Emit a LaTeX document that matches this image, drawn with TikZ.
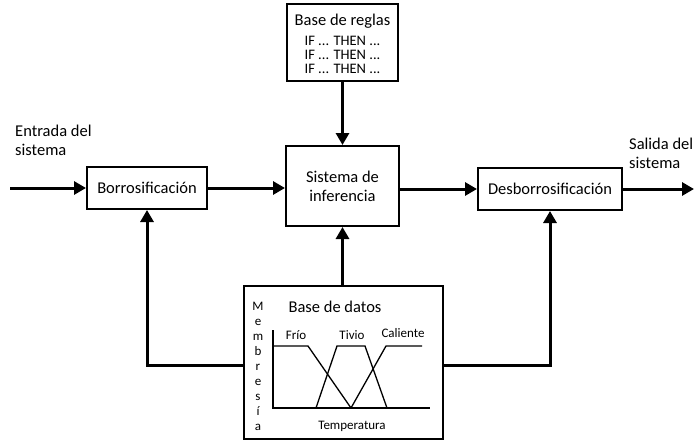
\documentclass[tikz,border=0pt]{standalone}
\usepackage{fontspec}
\setmainfont{Carlito}
\usetikzlibrary{arrows.meta}
\begin{document}
\begin{tikzpicture}[x=1pt,y=-1pt,
  blk/.style={draw,line width=2pt,fill=white},
  conn/.style={line width=3pt,-{Triangle[length=12pt,width=13pt]}},
  lbl/.style={font=\fontsize{16.5}{19}\selectfont},
  rule/.style={font=\fontsize{14.5}{14.5}\selectfont,inner sep=0pt},
  small/.style={font=\fontsize{13}{15}\selectfont},
  curve/.style={line width=1.3pt}]
\useasboundingbox (0,0) rectangle (696,442);
% boxes
\draw[blk] (287,4) rectangle (398,81);
\node[lbl,anchor=center] (rtitle) at (342.5,21) {Base de reglas};
\node[rule] (r1) at (342.5,40.5) {IF ... THEN ...};
\node[rule] (r2) at (342.5,54.5) {IF ... THEN ...};
\node[rule] (r3) at (342.5,68.5) {IF ... THEN ...};
\coordinate (reglasS) at (342.5,81);
\node[blk,minimum width=113pt,minimum height=80pt,lbl,align=center] (inf) at (342.5,186) {Sistema de\\inferencia};
\node[blk,minimum width=120pt,minimum height=42pt,lbl] (bor) at (147,188) {Borrosificación};
\node[blk,minimum width=144pt,minimum height=42pt,lbl] (des) at (550,189) {Desborrosificación};
\draw[blk] (244,286) rectangle (443,439);
\coordinate (datN) at (342.5,286);
\coordinate (datW) at (244,365);
\coordinate (datE) at (443,365);
% labels
\node[lbl,align=left,anchor=north west,inner sep=0pt] (in) at (15,125) {Entrada del\\sistema};
\node[lbl,align=left,anchor=north west,inner sep=0pt] (out) at (629,138) {Salida del\\sistema};
\coordinate (inS) at (10,188);
\coordinate (outE) at (694,189);
% connectors
\draw[conn] (inS) -- (bor.west);
\draw[conn] (bor.east) -- (inf.west |- bor.east);
\draw[conn] (inf.east |- des.west) -- (des.west);
\draw[conn] (des.east) -- (outE);
\draw[conn] (reglasS) -- (inf.north);
\draw[conn] (datN) -- (inf.south);
\draw[conn] (datW) -| (bor.south);
\draw[conn] (datE) -| (des.south);
% database content
\node[lbl] (dtitle) at (335,307) {Base de datos};
\node[small,align=center,inner sep=0pt] (memb) at (258,366) {M\\e\\m\\b\\r\\e\\s\\í\\a};
\draw[curve] (273,330) -- (273,408) -- (430,408);
\draw[curve] (273,346) -- (308,346) -- (351,408);
\draw[curve] (316,408) -- (337,346) -- (365,346) -- (387,408);
\draw[curve] (351,408) -- (386,346) -- (422,346);
\node[small] (frio) at (296,335) {Frío};
\node[small] (tivio) at (352,335) {Tivio};
\node[small] (cal) at (403,333) {Caliente};
\node[small] (temp) at (352,426) {Temperatura};
\end{tikzpicture}
\end{document}
